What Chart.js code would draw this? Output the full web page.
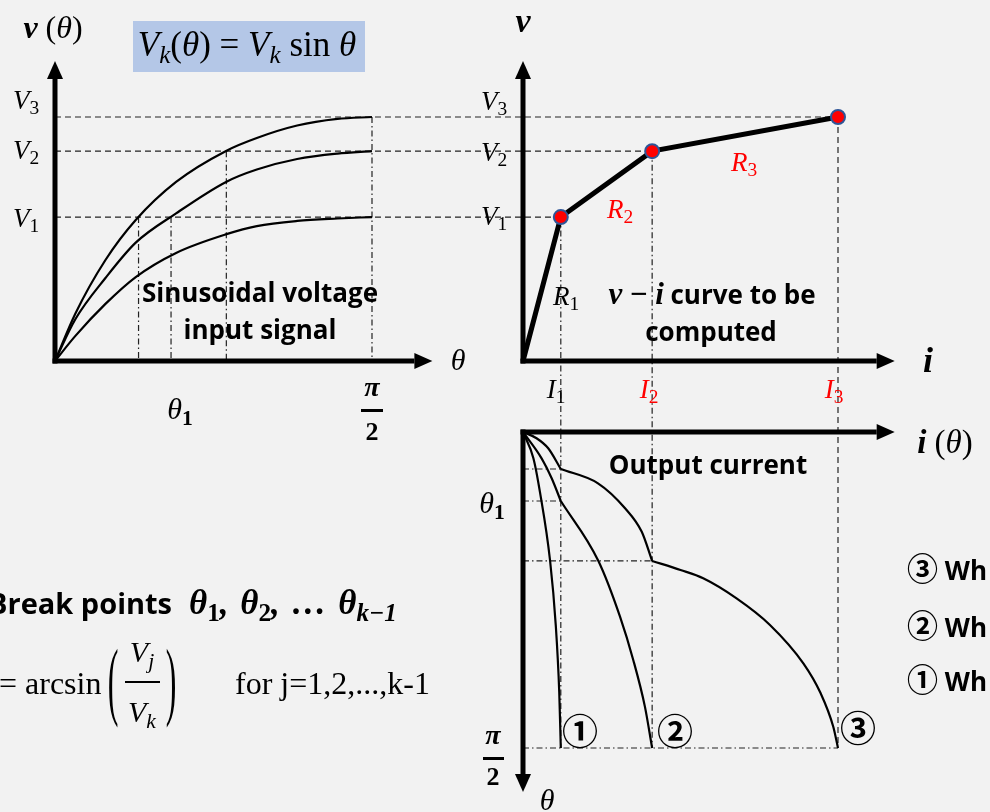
<!DOCTYPE html>
<html>
<head>
<meta charset="utf-8">
<script src="https://cdn.jsdelivr.net/npm/chart.js@4.4.1/dist/chart.umd.min.js"></script>
<style>
  html, body { margin: 0; padding: 0; }
  body { width: 990px; height: 812px; background: #f2f2f2; position: relative; overflow: hidden; }
  #diagram { position: absolute; left: 0; top: 0; }
  .t { position: absolute; transform: translate(-50%, -50%); white-space: nowrap; line-height: 1; color: #000; }
  .l { position: absolute; transform: translateY(-50%); white-space: nowrap; line-height: 1; color: #000; }
  .m { font-family: "Liberation Serif", "DejaVu Serif", serif; font-style: italic; }
  .s { font-family: "Open Sans", Lato, sans-serif; font-weight: 700; font-style: normal; }
  .up { font-style: normal; }
  .red { color: #ff0000; }
  .c { font-family: "Noto Sans CJK JP", "DejaVu Sans", sans-serif; font-weight: 700; font-style: normal; }
  sub { font-size: 0.72em; vertical-align: -0.28em; line-height: 0; }
  .bar { position: absolute; background: #000; }
</style>
</head>
<body>
<canvas id="diagram" width="990" height="812"></canvas>

<!-- top-left panel -->
<div class="t m" style="left:53px;top:27px;font-size:32px"><b>v</b> <span class="up">(</span>θ<span class="up">)</span></div>
<div style="position:absolute;left:133px;top:21px;width:232px;height:51px;background:#b4c7e7"></div>
<div class="t" style="left:247px;top:44px;font-family:'Liberation Serif',serif;font-size:35px"><i>V</i><sub><i>k</i></sub>(<i>θ</i>) = <i>V</i><sub><i>k</i></sub> sin <i>θ</i></div>
<div class="t m" style="left:26px;top:100px;font-size:27px">V<sub class="up">3</sub></div>
<div class="t m" style="left:26px;top:150px;font-size:27px">V<sub class="up">2</sub></div>
<div class="t m" style="left:26px;top:218px;font-size:27px">V<sub class="up">1</sub></div>
<div class="t m" style="left:458px;top:360px;font-size:30px">θ</div>
<div class="t m" style="left:180px;top:409px;font-size:30px">θ<sub class="up"><b>1</b></sub></div>
<div class="t m" style="left:372px;top:387px;font-size:28px"><b>π</b></div>
<div class="bar" style="left:361px;top:409px;width:22px;height:2.5px"></div>
<div class="t s" style="left:372px;top:432px;font-size:26px;font-family:'Liberation Serif',serif">2</div>
<div class="t s" style="left:260px;top:292px;font-size:26px">Sinusoidal voltage</div>
<div class="t s" style="left:260px;top:329px;font-size:26px">input signal</div>

<!-- top-right panel -->
<div class="t m" style="left:523px;top:21px;font-size:34px"><b>v</b></div>
<div class="t m" style="left:494px;top:101px;font-size:27px">V<sub class="up">3</sub></div>
<div class="t m" style="left:494px;top:152px;font-size:27px">V<sub class="up">2</sub></div>
<div class="t m" style="left:494px;top:216px;font-size:27px">V<sub class="up">1</sub></div>
<div class="t m" style="left:566px;top:296px;font-size:27px">R<sub class="up">1</sub></div>
<div class="t m red" style="left:620px;top:209px;font-size:27px">R<sub class="up">2</sub></div>
<div class="t m red" style="left:744px;top:162px;font-size:27px">R<sub class="up">3</sub></div>
<div class="t" style="left:712px;top:293px;font-size:26px"><span class="m" style="font-size:31px"><b>v</b> <b class="up">−</b> <b>i</b></span> <span class="s">curve to be</span></div>
<div class="t s" style="left:711px;top:331px;font-size:26px">computed</div>
<div class="t m" style="left:928px;top:360px;font-size:36px"><b>i</b></div>
<div class="t m" style="left:556px;top:389px;font-size:27px">I<sub class="up">1</sub></div>
<div class="t m red" style="left:649px;top:389px;font-size:27px">I<sub class="up">2</sub></div>
<div class="t m red" style="left:834px;top:389px;font-size:27px">I<sub class="up">3</sub></div>

<!-- bottom panel -->
<div class="t m" style="left:945px;top:442px;font-size:33px"><b>i</b> <span class="up">(</span>θ<span class="up">)</span></div>
<div class="t s" style="left:708px;top:464px;font-size:26px">Output current</div>
<div class="t m" style="left:492px;top:503px;font-size:30px">θ<sub class="up"><b>1</b></sub></div>
<div class="t m" style="left:493px;top:735px;font-size:28px"><b>π</b></div>
<div class="bar" style="left:483px;top:757px;width:21px;height:2.5px"></div>
<div class="t s" style="left:493px;top:777px;font-size:26px;font-family:'Liberation Serif',serif">2</div>
<div class="t m" style="left:547px;top:800px;font-size:30px">θ</div>
<div class="t c" style="left:580px;top:729px;font-size:36px">①</div>
<div class="t c" style="left:675px;top:729px;font-size:36px">②</div>
<div class="t c" style="left:858px;top:726px;font-size:36px">③</div>
<div class="l s" style="left:907px;top:567px;font-size:26px"><span class="c" style="font-size:31px">③</span> Wh</div>
<div class="l s" style="left:907px;top:624px;font-size:26px"><span class="c" style="font-size:31px">②</span> Wh</div>
<div class="l s" style="left:907px;top:678px;font-size:26px"><span class="c" style="font-size:31px">①</span> Wh</div>

<!-- bottom-left notes -->
<div class="l s" style="left:-12px;top:602px;font-size:29px">Break points</div>
<div class="l m" style="left:189px;top:602px;font-size:35px;word-spacing:3px"><b>θ<sub class="up">1</sub>, θ<sub class="up">2</sub>, … θ<sub><i>k</i>−1</sub></b></div>
<div class="l" style="left:-1px;top:683px;font-family:'Liberation Serif',serif;font-size:32px">= arcsin</div>
<div class="t" style="left:113px;top:679px;font-family:'Liberation Serif',serif;font-size:32px;transform:translate(-50%,-50%) scale(1,2.7)">(</div>
<div class="t" style="left:171px;top:679px;font-family:'Liberation Serif',serif;font-size:32px;transform:translate(-50%,-50%) scale(1,2.7)">)</div>
<div class="t m" style="left:142px;top:652px;font-size:30px">V<sub>j</sub></div>
<div class="bar" style="left:125px;top:681px;width:35px;height:1.5px"></div>
<div class="t m" style="left:142px;top:712px;font-size:30px">V<sub>k</sub></div>
<div class="l" style="left:235px;top:683px;font-family:'Liberation Serif',serif;font-size:32px">for j=1,2,...,k-1</div>

<script>
const HALF_PI = Math.PI / 2;

// input voltage curves, one per level, sampled on a common θ grid
const thetaGrid = [0, 0.1, 0.25, 0.4, 0.6, 0.85, 1.0, 1.2, 1.4, HALF_PI];
const inputV3 = [0, 1.93, 4.14, 5.78, 7.34, 8.62, 9.14, 9.65, 9.92, 10];
const inputV2 = [0, 1.7, 3.4, 4.85, 6.05, 7.35, 7.85, 8.28, 8.5, 8.6];
const inputV1 = [0, 1.02, 2.34, 3.44, 4.43, 5.20, 5.53, 5.74, 5.84, 5.9];

// break points of the piecewise v-i curve
const levelV = [5.9, 8.6, 10];
const levelI = [1.2, 4.1, 10];
const viCurrent = [0, 1.2, 4.1, 10];
const viVoltage = [0, 5.9, 8.6, 10];

// θ where the input curves reach a level (drop lines)
const crossTheta = [0.414, 0.575, 0.849, HALF_PI];
const crossV = [5.9, 5.9, 8.6, 10];

// output current i(θ) for the three amplitudes
const out1Theta = [0, 0.13, 0.3, 0.64, 0.96, 1.29, HALF_PI];
const out1I = [0, 0.33, 0.54, 0.86, 1.04, 1.15, 1.2];

const out2aTheta = [0, 0.131, 0.23, 0.343];
const out2aI = [0, 0.59, 0.91, 1.2];
const out2bTheta = [0.343, 0.64, 0.918, 1.133, 1.365, HALF_PI];
const out2bI = [1.2, 2.39, 3.08, 3.50, 3.87, 4.1];

const out3aTheta = [0, 0.031, 0.081, 0.184];
const out3aI = [0, 0.43, 0.8, 1.2];
const out3bTheta = [0.184, 0.255, 0.379, 0.496, 0.641];
const out3bI = [1.2, 2.38, 3.24, 3.77, 4.1];
const out3cTheta = [0.641, 0.686, 0.727, 0.827, 0.959, 1.150, 1.299, 1.465, HALF_PI];
const out3cI = [4.1, 5.0, 5.72, 6.78, 7.84, 8.90, 9.45, 9.85, 10];

// kinks in the output curves (θ marks on the vertical axis)
const kinkTheta = [0.184, 0.343, 0.641];
const kinkI = [1.2, 1.2, 4.1];

// axis arrow ends, in axis units
const thetaAxisEnd = 1.87;
const vAxisEnd = 12.3;
const iAxisEnd = 11.8;
const thetaDownEnd = 1.79;

const W = 990, H = 812;

// value range for a full-canvas scale so that v0 lands on pixel p0 and v1 on p1
function fit(p0, v0, p1, v1, size) {
   const k = (v1 - v0) / (p1 - p0);
   return [v0 - p0 * k, v0 + (size - p0) * k];
}

const thRange = fit(55, 0, 372, HALF_PI, W);
const curRange = fit(523, 0, 838, 10, W);
const vRange = fit(361, 0, 117, 10, H);
const tdRange = fit(432, 0, 748, HALF_PI, H);

const pts = (xs, ys) => xs.map((x, i) => ({ x: x, y: ys[i] }));

function curve(xs, ys, xAxis, yAxis, extra) {
   return Object.assign({
      data: pts(xs, ys),
      xAxisID: xAxis,
      yAxisID: yAxis,
      showLine: true,
      borderColor: '#000',
      borderWidth: 2.2,
      pointRadius: 0,
      cubicInterpolationMode: 'monotone',
      fill: false
   }, extra || {});
}

const DASH = [6, 4];
const DASH_DOT = [6, 3, 1.5, 3];

const guides = {
   id: 'guides',
   beforeDatasetsDraw(chart) {
      const { ctx } = chart;
      const { th, cur, v, td } = chart.scales;
      const seg = (x0, y0, x1, y1, dash) => {
         ctx.setLineDash(dash);
         ctx.beginPath();
         ctx.moveTo(x0, y0);
         ctx.lineTo(x1, y1);
         ctx.stroke();
      };
      ctx.save();
      ctx.strokeStyle = '#222';
      ctx.lineWidth = 1.2;

      // levels run from the v axis over to the v-i break points
      levelV.forEach((lv, k) => {
         const y = v.getPixelForValue(lv);
         seg(th.getPixelForValue(0), y, cur.getPixelForValue(levelI[k]), y, DASH);
      });

      // drops from the input curves to the θ axis
      crossTheta.forEach((t, k) => {
         const x = th.getPixelForValue(t);
         seg(x, v.getPixelForValue(crossV[k]), x, v.getPixelForValue(0), DASH_DOT);
      });

      // drops from each break point down to θ = π/2
      levelI.forEach((ci, k) => {
         const x = cur.getPixelForValue(ci);
         seg(x, v.getPixelForValue(levelV[k]), x, td.getPixelForValue(HALF_PI), k === 2 ? DASH : DASH_DOT);
      });

      // θ marks of the kinks, and the π/2 line
      kinkTheta.forEach((t, k) => {
         const y = td.getPixelForValue(t);
         seg(cur.getPixelForValue(0), y, cur.getPixelForValue(kinkI[k]), y, DASH_DOT);
      });
      const yEnd = td.getPixelForValue(HALF_PI);
      seg(cur.getPixelForValue(0), yEnd, cur.getPixelForValue(levelI[2]), yEnd, DASH_DOT);
      ctx.restore();
   }
};

const arrows = {
   id: 'arrows',
   afterDatasetsDraw(chart) {
      const { ctx } = chart;
      const { th, cur, v, td } = chart.scales;
      const axis = (x0, y0, x1, y1) => {
         const a = Math.atan2(y1 - y0, x1 - x0);
         const L = 18, hw = 8;
         const bx = x1 - L * Math.cos(a), by = y1 - L * Math.sin(a);
         ctx.beginPath();
         ctx.moveTo(x0 - 2.5 * Math.cos(a), y0 - 2.5 * Math.sin(a));
         ctx.lineTo(bx, by);
         ctx.stroke();
         ctx.beginPath();
         ctx.moveTo(x1, y1);
         ctx.lineTo(bx + hw * Math.sin(a), by - hw * Math.cos(a));
         ctx.lineTo(bx - hw * Math.sin(a), by + hw * Math.cos(a));
         ctx.closePath();
         ctx.fill();
      };
      ctx.save();
      ctx.strokeStyle = '#000';
      ctx.fillStyle = '#000';
      ctx.lineWidth = 5;

      // v(θ) panel
      const x0 = th.getPixelForValue(0), y0 = v.getPixelForValue(0);
      axis(x0, y0, x0, v.getPixelForValue(vAxisEnd));
      axis(x0, y0, th.getPixelForValue(thetaAxisEnd), y0);

      // v-i panel
      const c0 = cur.getPixelForValue(0);
      axis(c0, y0, c0, v.getPixelForValue(vAxisEnd));
      axis(c0, y0, cur.getPixelForValue(iAxisEnd), y0);

      // i(θ) panel
      const d0 = td.getPixelForValue(0);
      axis(c0, d0, cur.getPixelForValue(iAxisEnd), d0);
      axis(c0, d0, c0, td.getPixelForValue(thetaDownEnd));
      ctx.restore();
   }
};

new Chart(document.getElementById('diagram'), {
   type: 'scatter',

   data: {
      datasets: [
         {
            data: pts(levelI, levelV),
            xAxisID: 'cur',
            yAxisID: 'v',
            showLine: false,
            pointRadius: 7,
            pointBackgroundColor: '#ff0000',
            pointBorderColor: '#2f5597',
            pointBorderWidth: 2,
            order: -1
         },
         curve(viCurrent, viVoltage, 'cur', 'v', { borderWidth: 5, cubicInterpolationMode: 'default', tension: 0 }),

         curve(thetaGrid, inputV3, 'th', 'v'),
         curve(thetaGrid, inputV2, 'th', 'v'),
         curve(thetaGrid, inputV1, 'th', 'v'),

         curve(out1I, out1Theta, 'cur', 'td'),
         curve(out2aI, out2aTheta, 'cur', 'td'),
         curve(out2bI, out2bTheta, 'cur', 'td'),
         curve(out3aI, out3aTheta, 'cur', 'td'),
         curve(out3bI, out3bTheta, 'cur', 'td'),
         curve(out3cI, out3cTheta, 'cur', 'td')
      ]
   },

   options: {
      responsive: false,
      animation: false,
      devicePixelRatio: 1,
      events: [],

      layout: {
         padding: 0,
         autoPadding: false
      },

      plugins: {
         legend: { display: false },
         tooltip: { enabled: false }
      },

      scales: {
         th: { type: 'linear', axis: 'x', display: false, bounds: 'data', min: thRange[0], max: thRange[1] },
         cur: { type: 'linear', axis: 'x', display: false, bounds: 'data', min: curRange[0], max: curRange[1] },
         v: { type: 'linear', axis: 'y', display: false, bounds: 'data', min: vRange[1], max: vRange[0] },
         td: { type: 'linear', axis: 'y', display: false, bounds: 'data', reverse: true, min: tdRange[0], max: tdRange[1] }
      }
   },

   plugins: [guides, arrows]
});
</script>
</body>
</html>
